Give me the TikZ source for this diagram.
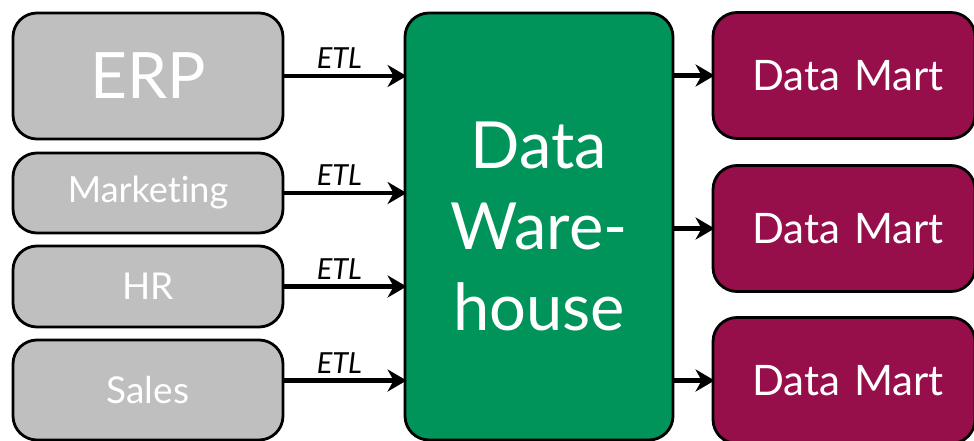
\documentclass[tikz,border=0pt]{standalone}
\usepackage{fontspec}
\setmainfont{Lato}[Ligatures=NoCommon]
\usetikzlibrary{arrows.meta,calc}
\definecolor{srcgray}{HTML}{BFBFBF}
\definecolor{dwgreen}{HTML}{00935A}
\definecolor{dmred}{HTML}{960F4B}
\tikzset{
  box/.style={draw=black, line width=2.8pt, rounded corners=24pt, text=white, inner sep=0pt, align=center},
  src/.style={box, fill=srcgray, minimum width=270pt},
  mart/.style={box, fill=dmred, minimum width=262pt, minimum height=126pt, font=\fontsize{42}{46}\selectfont, text width=250pt, xshift=0pt},
  conn/.style={line width=4.4pt, -{Stealth[length=19pt,width=22pt,inset=6pt]}},
  etl/.style={font=\itshape\fontsize{29}{32}\selectfont, above=4pt, pos=0.45, inner sep=1pt}
}
\begin{document}
\begin{tikzpicture}[x=1pt,y=-1pt]
\useasboundingbox (0,0) rectangle (974,441);
\clip (0,0) rectangle (974,441);
\fill[white] (0,0) rectangle (974,441);
\node[src, minimum height=126pt, font=\fontsize{64}{70}\selectfont] (erp) at (148,76) {ERP};
\node[src, minimum height=80pt, font=\fontsize{36}{40}\selectfont] (mkt) at (148,193) {Marketing};
\node[src, minimum height=81pt, font=\fontsize{37}{40}\selectfont] (hr) at (148,286.5) {HR};
\node[src, minimum height=100pt, font=\fontsize{37}{40}\selectfont] (sales) at (148,390) {Sales};
\node[box, fill=dwgreen, minimum width=268pt, minimum height=427pt, font=\fontsize{65}{81}\selectfont] (dw) at (539,226.5) {Data\\Ware-\\house};
\node[mart] (dm1) at (844,75.5) {\hspace*{8pt}Data Mart};
\node[mart] (dm2) at (844,228.5) {\hspace*{8pt}Data Mart};
\node[mart] (dm3) at (844,380.5) {\hspace*{8pt}Data Mart};
\draw[conn] (erp.east) -- ([xshift=3pt]erp.east -| dw.west) node[etl] {ETL};
\draw[conn] (mkt.east) -- ([xshift=3pt]mkt.east -| dw.west) node[etl] {ETL};
\draw[conn] (hr.east) -- ([xshift=3pt]hr.east -| dw.west) node[etl] {ETL};
\draw[conn] (sales.east |- dm3.west) -- ([xshift=3pt]dm3.west -| dw.west) node[etl] {ETL};
\draw[conn] (dm1.west -| dw.east) -- ([xshift=3pt]dm1.west);
\draw[conn] (dm2.west -| dw.east) -- ([xshift=3pt]dm2.west);
\draw[conn] (dm3.west -| dw.east) -- ([xshift=3pt]dm3.west);
\end{tikzpicture}
\end{document}
